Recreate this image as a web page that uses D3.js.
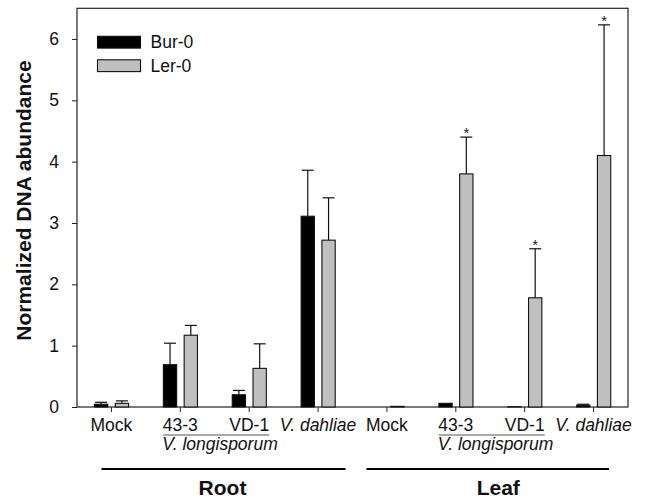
<!DOCTYPE html>
<html>
<head>
<meta charset="utf-8">
<script src="https://cdn.jsdelivr.net/npm/d3@7"></script>
<style>
  body { margin: 0; background: #fff; }
  svg { display: block; font-family: "Liberation Sans", Arial, sans-serif; }
</style>
</head>
<body>
<div id="chart"></div>
<script>
// ---- data ----
const categories = ["Mock", "43-3", "VD-1", "V. dahliae", "Mock", "43-3", "VD-1", "V. dahliae"];
const tissues = ["Root", "Root", "Root", "Root", "Leaf", "Leaf", "Leaf", "Leaf"];
const seriesNames = ["Bur-0", "Ler-0"];
const burMean = [0.045, 0.69, 0.20, 3.11, 0.0, 0.06, 0.004, 0.03];
const burErr  = [0.032, 0.35, 0.07, 0.75, 0.0, 0.0, 0.0, 0.015];
const lerMean = [0.06, 1.17, 0.63, 2.72, 0.01, 3.80, 1.78, 4.10];
const lerErr  = [0.04, 0.16, 0.40, 0.69, 0.0, 0.60, 0.80, 2.13];
const lerSignificant = [false, false, false, false, false, true, true, true];
const yTicks = [0, 1, 2, 3, 4, 5, 6];
const yLabel = "Normalized DNA abundance";
const subgroupLabel = "V. longisporum";

// ---- layout ----
const W = 650, H = 499;
const pL = 77, pR = 628, pT = 8.3, pB = 407;
const FONT = 17.5;

const svg = d3.select("#chart").append("svg").attr("width", W).attr("height", H);

const idx = categories.map((d, i) => i);
const x = d3.scaleBand().domain(idx).range([pL, pR]).padding(0);
const y = d3.scaleLinear().domain([0, 6.5]).range([pB, pT]);
const cx = i => x(i) + x.bandwidth() / 2;

const barW = 13.3;
const offsets = [-10.3, 10.5];
const fills = ["#000000", "#c0c0c0"];
const means = [burMean, lerMean];
const errs = [burErr, lerErr];

// frame
svg.append("rect").attr("x", pL).attr("y", pT).attr("width", pR - pL).attr("height", pB - pT)
  .attr("fill", "none").attr("stroke", "#222").attr("stroke-width", 1.2);

// bars + error bars
seriesNames.forEach((s, k) => {
  const g = svg.append("g");
  idx.forEach(i => {
    const v = means[k][i];
    if (v <= 0) return;
    const bx = cx(i) + offsets[k] - barW / 2;
    g.append("rect")
      .attr("x", bx).attr("y", y(v))
      .attr("width", barW).attr("height", Math.max(0, y(0) - y(v)))
      .attr("fill", fills[k]).attr("stroke", "#111").attr("stroke-width", 1.1);
    const e = errs[k][i];
    const ex = cx(i) + offsets[k];
    if (e > 0) {
      g.append("line").attr("x1", ex).attr("x2", ex).attr("y1", y(v)).attr("y2", y(v + e))
        .attr("stroke", "#111").attr("stroke-width", 1.2);
      g.append("line").attr("x1", ex - 6).attr("x2", ex + 6).attr("y1", y(v + e)).attr("y2", y(v + e))
        .attr("stroke", "#111").attr("stroke-width", 1.2);
    }
    if (k === 1 && lerSignificant[i]) {
      g.append("text").attr("x", ex).attr("y", y(v + e) + 1)
        .attr("text-anchor", "middle").attr("font-size", 15).attr("fill", "#222").text("*");
    }
  });
});

// y axis
const yAxis = d3.axisLeft(y).tickValues(yTicks).tickSize(5).tickPadding(13).tickFormat(d3.format("d"));
const ya = svg.append("g").attr("transform", `translate(${pL},0)`).call(yAxis);
ya.select(".domain").remove();
ya.selectAll("text").attr("font-size", FONT).attr("font-family", "Liberation Sans, Arial, sans-serif").attr("fill", "#111");
ya.selectAll("line").attr("stroke", "#222");

// x axis
const xAxis = d3.axisBottom(x).tickSize(5).tickPadding(7).tickFormat(i => categories[i]);
const xa = svg.append("g").attr("transform", `translate(0,${pB})`).call(xAxis);
xa.select(".domain").remove();
xa.selectAll("text").attr("font-size", FONT).attr("font-family", "Liberation Sans, Arial, sans-serif").attr("fill", "#111")
  .attr("font-style", i => categories[i].startsWith("V.") ? "italic" : "normal");
xa.selectAll("line").attr("stroke", "#222");

// V. longisporum sublabels
["Root", "Leaf"].forEach(t => {
  const i43 = idx.find(i => tissues[i] === t && categories[i] === "43-3");
  const ivd = idx.find(i => tissues[i] === t && categories[i] === "VD-1");
  svg.append("line").attr("x1", cx(i43) - 17).attr("x2", cx(ivd) + 20).attr("y1", 435).attr("y2", 435)
    .attr("stroke", "#555").attr("stroke-width", 1);
  svg.append("text").attr("x", cx(i43) - 18).attr("y", 450).attr("font-size", FONT)
    .attr("font-style", "italic").attr("fill", "#111").text(subgroupLabel);
});

// tissue group lines & labels
const groupSpec = {
  Root: { l: -10, r: 27.5, dt: -1 },
  Leaf: { l: -20.5, r: 15.5, dt: 10.5 }
};
["Root", "Leaf"].forEach(t => {
  const ids = idx.filter(i => tissues[i] === t);
  const x1 = cx(ids[0]) + groupSpec[t].l;
  const x2 = cx(ids[ids.length - 1]) + groupSpec[t].r;
  svg.append("line").attr("x1", x1).attr("x2", x2).attr("y1", 469).attr("y2", 469)
    .attr("stroke", "#000").attr("stroke-width", 2);
  svg.append("text").attr("x", (x1 + x2) / 2 + groupSpec[t].dt).attr("y", 495).attr("text-anchor", "middle")
    .attr("font-size", 21).attr("font-weight", "bold").attr("fill", "#111").text(t);
});

// y label
svg.append("text").attr("transform", `translate(31,200.5) rotate(-90)`).attr("text-anchor", "middle")
  .attr("font-size", 21).attr("font-weight", "bold").attr("fill", "#111").text(yLabel);

// legend
const leg = svg.append("g");
seriesNames.forEach((s, k) => {
  const by = 48.3 + k * 23.5;
  leg.append("rect").attr("x", 97.5).attr("y", by - 12).attr("width", 43).attr("height", 11.8)
    .attr("fill", fills[k]).attr("stroke", "#111").attr("stroke-width", 1.1);
  leg.append("text").attr("x", 150.5).attr("y", by).attr("font-size", FONT).attr("fill", "#111").text(s);
});
</script>
</body>
</html>
